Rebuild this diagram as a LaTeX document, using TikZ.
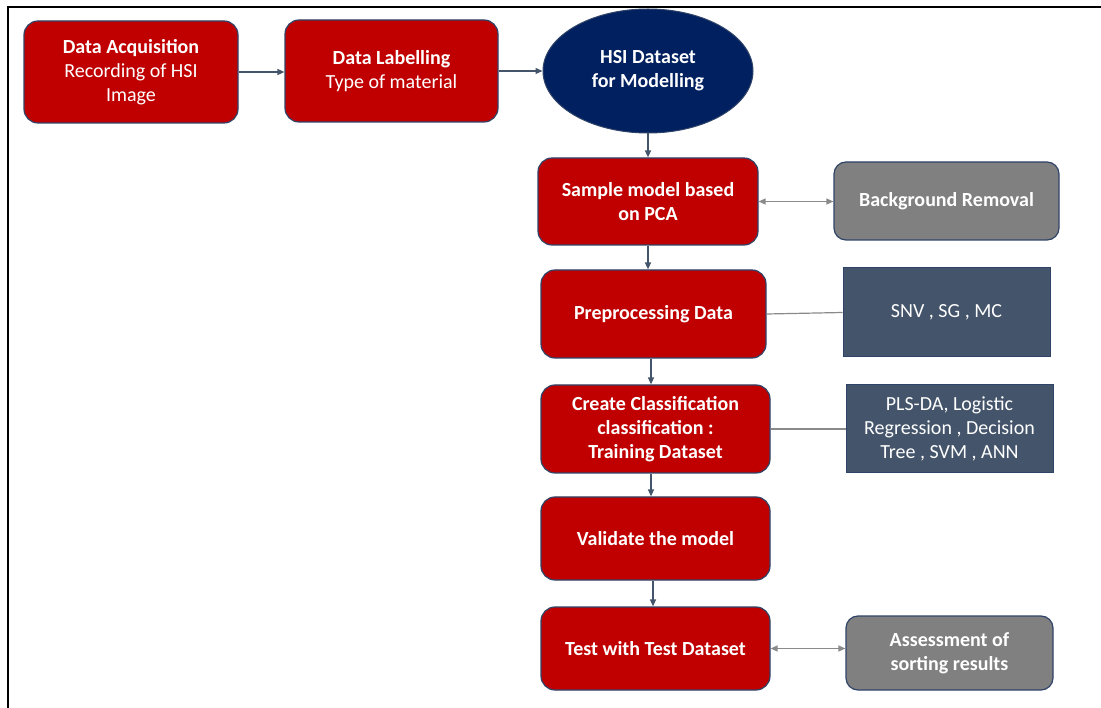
\documentclass[tikz,border=0pt]{standalone}
\usepackage{fontspec}
\setmainfont{Carlito}
\usetikzlibrary{shapes.geometric,arrows.meta}
\definecolor{stepred}{HTML}{C00000}
\definecolor{navy}{HTML}{002060}
\definecolor{slate}{HTML}{44546A}
\definecolor{edgeblue}{HTML}{2F4468}
\definecolor{greybox}{HTML}{808080}
\definecolor{greyline}{HTML}{8A8A8A}
\begin{document}
\begin{tikzpicture}[x=1pt,y=1pt,
  every node/.style={font=\fontsize{20}{24}\selectfont, text=white, align=center, inner sep=0pt},
  redbox/.style={rectangle, rounded corners=14pt, fill=stepred, draw=edgeblue, line width=1.2pt},
  greyrbox/.style={rectangle, rounded corners=12pt, fill=greybox, draw=edgeblue, line width=1.2pt},
  slatebox/.style={rectangle, fill=slate, draw=edgeblue, line width=1pt},
  flow/.style={draw=slate, line width=1.3pt, -{Triangle[length=7pt,width=6pt]}},
  twoway/.style={draw=greyline, line width=1.3pt, {Triangle[length=7pt,width=6pt]}-{Triangle[length=7pt,width=6pt]}},
  link/.style={draw=greyline, line width=1.2pt}]
\useasboundingbox (0,0) rectangle (1101,-708);
% outer frame (top and left edges)
\draw[line width=2.5pt] (8,-708) -- (8,-7) -- (1101,-7);

% top row
\node[redbox, minimum width=214pt, minimum height=102pt] (acq) at (131,-72)
  {\textbf{Data Acquisition}\\Recording of HSI\\Image};
\node[redbox, minimum width=213pt, minimum height=102pt] (lab) at (391.5,-71)
  {\textbf{Data Labelling}\\Type of material};
\node[ellipse, fill=navy, draw=edgeblue, line width=1pt, minimum width=210pt, minimum height=124pt] (hsi) at (648,-71)
  {\textbf{HSI Dataset}\\\textbf{for Modelling}};

% main column
\node[redbox, minimum width=220pt, minimum height=87pt] (pca) at (648,-201.5)
  {\textbf{Sample model based}\\\textbf{on PCA}};
\node[redbox, minimum width=225pt, minimum height=88pt] (pre) at (653.5,-314)
  {\textbf{Preprocessing Data}};
\node[redbox, minimum width=229pt, minimum height=88pt] (cls) at (655.5,-429)
  {\textbf{Create Classification}\\\textbf{classification :}\\\textbf{Training Dataset}};
\node[redbox, minimum width=229pt, minimum height=83pt] (val) at (655.5,-538.5)
  {\textbf{Validate the model}};
\node[redbox, minimum width=229pt, minimum height=83pt] (tst) at (655.5,-648.5)
  {\textbf{Test with Test Dataset}};

% side boxes
\node[greyrbox, minimum width=225pt, minimum height=78pt] (bgr) at (946.5,-201)
  {\textbf{Background Removal}};
\node[slatebox, minimum width=207pt, minimum height=89pt] (snv) at (946.5,-312.5)
  {SNV , SG , MC};
\node[slatebox, minimum width=207pt, minimum height=88pt] (mdl) at (949.5,-429)
  {PLS-DA, Logistic\\Regression , Decision\\Tree , SVM , ANN};
\node[greyrbox, minimum width=207pt, minimum height=74pt] (asm) at (949.5,-653)
  {\textbf{Assessment of}\\\textbf{sorting results}};

% connectors
\draw[flow] (acq.east) -- (lab.west |- acq.east);
\draw[flow] (lab.east) -- (hsi.west);
\draw[flow] (hsi.south) -- (pca.north);
\draw[flow] (pca.south) -- (pca.south |- pre.north);
\draw[flow] ([xshift=-2.5pt]pre.south) -- ([xshift=-2.5pt]pre.south |- cls.north);
\draw[flow] ([xshift=-4.5pt]cls.south) -- ([xshift=-4.5pt]cls.south |- val.north);
\draw[flow] ([xshift=-2.5pt]val.south) -- ([xshift=-2.5pt]val.south |- tst.north);
\draw[twoway] (pca.east) -- (bgr.west |- pca.east);
\draw[twoway] (tst.east) -- (asm.west |- tst.east);
\draw[link] (pre.east) -- (snv.west);
\draw[link] (cls.east) -- (mdl.west);
\end{tikzpicture}
\end{document}
